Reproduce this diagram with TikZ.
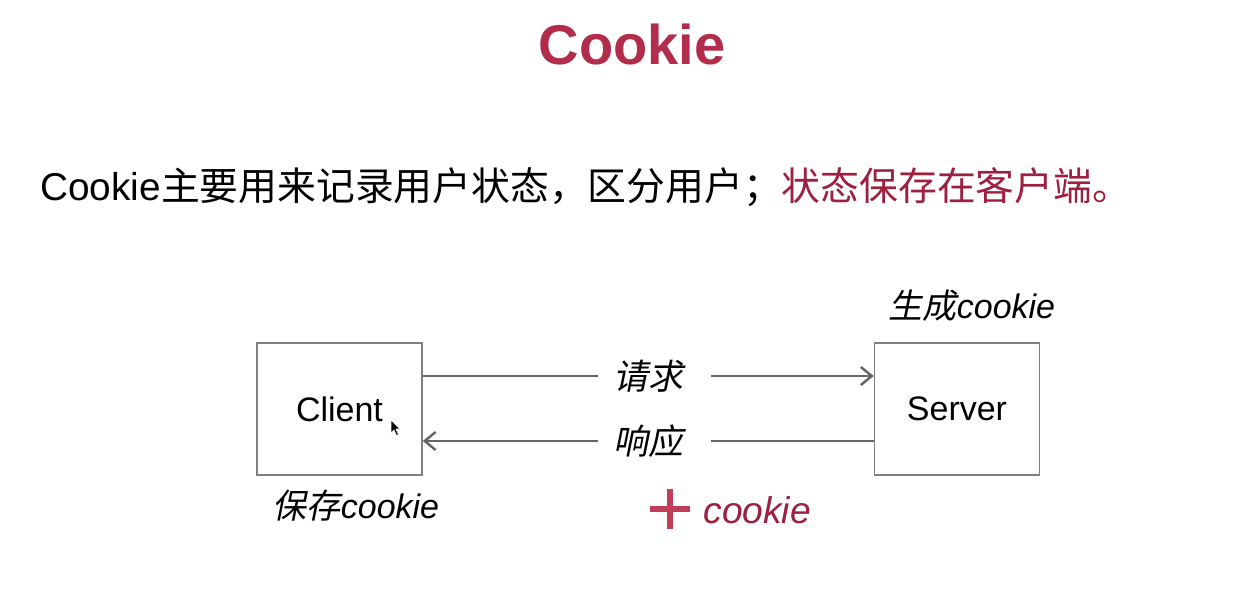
\documentclass[tikz,border=0pt]{standalone}
\usepackage{fontspec}
\usetikzlibrary{arrows.meta}
\setmainfont{Liberation Sans}
\newfontfamily\cjk{Noto Sans CJK SC}
\newfontfamily\cjkit{Noto Sans CJK SC}[FakeSlant=0.2]
\definecolor{titlered}{RGB}{178,44,76}
\definecolor{textred}{RGB}{158,32,64}
\definecolor{plusred}{RGB}{192,62,88}
\definecolor{boxgray}{RGB}{128,128,128}
\definecolor{linegray}{RGB}{100,100,100}
\begin{document}
\begin{tikzpicture}[x=0.5pt,y=-0.5pt,
  box/.style={draw=boxgray,line width=0.75pt,minimum width=82.5pt,minimum height=66pt,
    inner sep=0pt,font=\fontsize{17}{20}\selectfont},
  msg/.style={inner sep=0pt,font=\fontsize{17.5}{20}\selectfont\cjkit},
  flow/.style={draw=linegray,line width=1pt},
  tip/.style={-{Straight Barb[length=5.5pt,width=9pt,line width=1.2pt]}},
  note/.style={inner sep=0pt,font=\fontsize{17}{20}\selectfont}]
\useasboundingbox (0,0) rectangle (1244,616);
\fill[white] (0,0) rectangle (1244,616);

% heading and summary line
\node[inner sep=0pt,text=titlered,font=\fontsize{28}{32}\selectfont\bfseries] (title) at (632,44) {Cookie};
\node[inner sep=0pt,anchor=base west,font=\fontsize{19.4}{23}\selectfont] (summary) at (40,200)
  {Cookie{\cjk 主要用来记录用户状态，区分用户；}{\cjk\color{textred}状态保存在客户端。}};

% the two parties
\node[box] (client) at (339.5,409) {Client};
\node[box] (server) at (957,409) {Server};

% request and response
\node[msg] (req) at (648,376) {请求};
\node[msg] (resp) at (648,441) {响应};
\draw[flow] (client.east |- req) -- ([xshift=-7.5pt]req.west);
\draw[flow,tip] ([xshift=14pt]req.east) -- (server.west |- req);
\draw[flow] (server.west |- resp) -- ([xshift=14pt]resp.east);
\draw[flow,tip] ([xshift=-7.5pt]resp.west) -- (client.east |- resp);

% annotations
\node[note] (gen) at (972,306) {{\cjkit 生成}\itshape cookie};
\node[note] (save) at (356,506) {{\cjkit 保存}\itshape cookie};
\coordinate (plus) at (670,509);
\draw[plusred,line width=2.6pt] (plus) +(-20,0) -- +(20,0)
  (plus) +(0,-20) -- +(0,20);
\node[inner sep=0pt,anchor=west,text=textred,font=\fontsize{18.6}{21}\selectfont\itshape] (extra) at (703,510) {cookie};

% pointer
\filldraw[fill=black,draw=white,line width=0.3pt] (391,420) -- (391,433) -- (394,430) -- (396.5,435.5)
  -- (398.5,434.5) -- (396,429) -- (400,429) -- cycle;
\end{tikzpicture}
\end{document}
